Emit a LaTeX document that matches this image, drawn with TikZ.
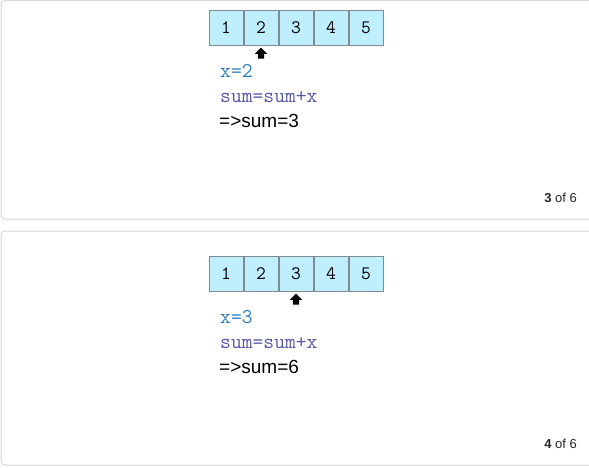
\documentclass[tikz,border=0pt]{standalone}
\usepackage{fontspec}
\setmainfont{Liberation Sans}
\usepackage{xcolor}
\usetikzlibrary{positioning,shapes.arrows}

\definecolor{cellfill}{HTML}{BFEFFF}
\definecolor{cellline}{HTML}{7F8C8F}
\definecolor{varblue}{HTML}{2F7FC0}
\definecolor{exprblue}{HTML}{5656A8}
\definecolor{panelline}{HTML}{D6D6D6}

\begin{document}
\begin{tikzpicture}[x=1pt, y=-1pt,
  panel/.style={draw=panelline, line width=1pt, rounded corners=4pt},
  cell/.style={rectangle, draw=cellline, fill=cellfill, line width=0.8pt,
               minimum width=34pt, minimum height=35pt, inner sep=0pt,
               font=\fontsize{19}{21}\selectfont\ttfamily},
  pointer/.style={single arrow, fill=black, shape border rotate=90,
                  minimum height=11pt, inner sep=3pt,
                  single arrow head extend=3pt, single arrow head indent=0pt},
  code/.style={anchor=base west, inner sep=0pt,
               font=\fontsize{21}{23}\selectfont\ttfamily},
  result/.style={anchor=base west, inner sep=0pt,
                 font=\fontsize{19}{21}\selectfont},
  pager/.style={anchor=base east, inner sep=0pt,
                font=\fontsize{13}{15}\selectfont, text=black!85}]
  \useasboundingbox (0,0) rectangle (589,467);

  % one slide per step: y offset / panel top / value of x / sum / page number
  \foreach \dy/\ptop/\val/\total/\page in {0/0.5/2/3/3, 246/-15/3/6/4} {
    \begin{scope}[yshift=-\dy pt]
      \draw[panel] (1,\ptop) rectangle (620,219);
      \foreach \k in {1,...,5}
        \node[cell] (p\page-\k) at (226+35*\k-35, 27.5) {\k};
      \node[pointer, below=2pt of p\page-\val] (ptr\page) {};
      \node[code, text=varblue] (x\page) at (220,77) {x=\val};
      \node[code, text=exprblue] (s\page) at (220,102) {sum=sum+x};
      \node[result] (r\page) at (219,127) {=>sum=\total};
      \node[pager] (n\page) at (577,202) {\textbf{\page} of 6};
    \end{scope}
  }
\end{tikzpicture}
\end{document}
